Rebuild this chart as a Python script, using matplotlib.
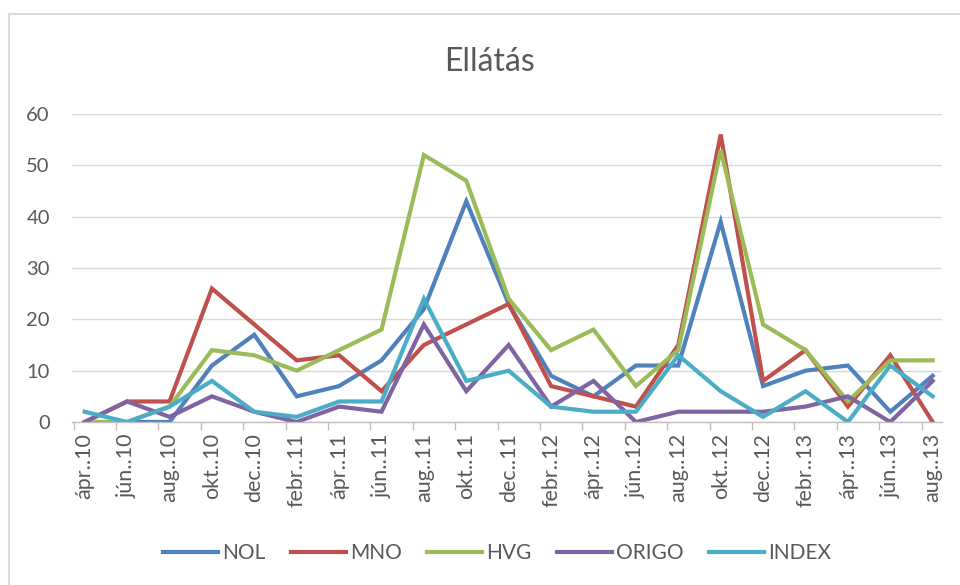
import matplotlib
matplotlib.use("Agg")
import matplotlib.pyplot as plt
from matplotlib.patches import Rectangle
import numpy as np

plt.rcParams['font.family'] = ['Lato', 'DejaVu Sans']

categories = ["ápr..10", "jún..10", "aug..10", "okt..10", "dec..10", "febr..11", "ápr..11",
              "jún..11", "aug..11", "okt..11", "dec..11", "febr..12", "ápr..12", "jún..12",
              "aug..12", "okt..12", "dec..12", "febr..13", "ápr..13", "jún..13", "aug..13"]

NOL   = [0, 0, 0, 11, 17, 5, 7, 12, 22, 43, 23, 9, 5, 11, 11, 39, 7, 10, 11, 2, 9]
MNO   = [0, 4, 4, 26, 19, 12, 13, 6, 15, 19, 23, 7, 5, 3, 15, 56, 8, 14, 3, 13, 0]
HVG   = [0, 0, 3, 14, 13, 10, 14, 18, 52, 47, 24, 14, 18, 7, 14, 53, 19, 14, 4, 12, 12]
ORIGO = [0, 4, 1, 5, 2, 0, 3, 2, 19, 6, 15, 3, 8, 0, 2, 2, 2, 3, 5, 0, 8]
INDEX = [2, 0, 3, 8, 2, 1, 4, 4, 24, 8, 10, 3, 2, 2, 13, 6, 1, 6, 0, 11, 5]

series_names = ["NOL", "MNO", "HVG", "ORIGO", "INDEX"]
series_values = [NOL, MNO, HVG, ORIGO, INDEX]
colors = ["#4F81BD", "#C0504D", "#9BBB59", "#8064A2", "#4BACC6"]

fig = plt.figure(figsize=(9.6, 5.85), dpi=100)
# chart border (only left/top visible in reference)
fig.patches.append(Rectangle((9/960, -0.05), 1.2, 1 - 14/585 + 0.05, transform=fig.transFigure,
                             fill=False, edgecolor="#D9D9D9", linewidth=1.5))

ax = fig.add_axes([72/960, 1 - 422/585, (942 - 72)/960, (422 - 114)/585])
x = np.arange(len(categories))
for name, vals, c in zip(series_names, series_values, colors):
    ax.plot(x, vals, color=c, linewidth=3, label=name, solid_joinstyle='miter')

ax.set_ylim(0, 60)
ax.set_xlim(-0.3, 20.22)
ax.set_yticks(np.arange(0, 61, 10))
ax.yaxis.grid(True, color="#D9D9D9", linewidth=1)
ax.set_axisbelow(True)
for s in ["top", "right", "left"]:
    ax.spines[s].set_visible(False)
ax.spines["bottom"].set_color("#BFBFBF")
ax.spines["bottom"].set_linewidth(1)

ax.set_xticks(x)
ax.set_xticklabels(categories, rotation=90, fontsize=15.5, color="#595959")
ax.tick_params(axis='x', which='major', length=0, pad=8)
ax.set_xticks(x - 0.26, minor=True)
ax.tick_params(axis='x', which='minor', length=6, color="#BFBFBF", width=1)
ax.tick_params(axis='y', length=0, labelsize=14.5, labelcolor="#595959", pad=16)

fig.text(490/960, 1 - 62/585, "Ellátás", ha="center", va="center", fontsize=23, color="#595959")

leg = fig.legend(loc="center", bbox_to_anchor=(497/960, 1 - 553/585), ncol=5, frameon=False,
                 fontsize=15, handlelength=2.65, columnspacing=1.2, handletextpad=0.2)
for t in leg.get_texts():
    t.set_color("#595959")

fig.savefig("out.png", dpi=100)
